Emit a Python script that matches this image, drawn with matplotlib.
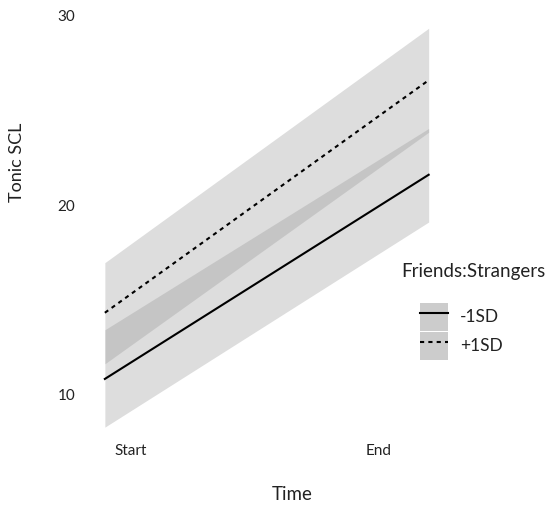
import matplotlib.pyplot as plt
from matplotlib.patches import Patch
from matplotlib.lines import Line2D
from matplotlib.legend_handler import HandlerTuple

plt.rcParams['font.family'] = ['Lato', 'DejaVu Sans']

# fitted Tonic SCL at the two ends of the time window, per moderator level
time = [-0.105, 1.2]
tick_pos = [0, 1]
tick_labels = ['Start', 'End']

low_fit = [10.8, 21.6]      # Friends:Strangers -1SD
low_lower = [8.25, 19.1]
low_upper = [13.4, 24.05]

high_fit = [14.3, 26.6]     # Friends:Strangers +1SD
high_lower = [11.6, 23.85]
high_upper = [16.95, 29.35]

W, H = 549, 508
fig = plt.figure(figsize=(W / 100, H / 100), dpi=100)
ax = fig.add_axes([85 / W, (H - 440) / H, (450 - 85) / W, (440 - 5) / H])

band = dict(color='#8f8f8f', alpha=0.3, linewidth=0)
ax.fill_between(time, low_lower, low_upper, **band)
ax.fill_between(time, high_lower, high_upper, **band)
ax.plot(time, low_fit, color='black', linewidth=1.5)
ax.plot(time, high_fit, color='black', linewidth=1.5, linestyle=(0, (2, 2)))

ax.set_xlim(-0.185, 1.286)
ax.set_ylim(7.57, 30.58)
ax.set_xticks(tick_pos, tick_labels)
ax.set_yticks([10, 20, 30])
ax.tick_params(length=0, labelsize=11, labelcolor='#222222')
ax.tick_params(axis='y', pad=7)
ax.tick_params(axis='x', pad=3)
for s in ax.spines.values():
    s.set_visible(False)

fig.text(17 / W, 1 - 162 / H, 'Tonic SCL', rotation=90, ha='center', va='center',
         fontsize=13, color='#222222')
fig.text(292 / W, 1 - 495 / H, 'Time', ha='center', va='center',
         fontsize=13.5, color='#222222')

# legend: title set as its own text, keys are grey squares with the line on top
fig.text(401 / W, 1 - 272 / H, 'Friends:Strangers', ha='left', va='center',
         fontsize=13.5, color='#222222')
key = '#cccccc'
handles = [
    (Patch(facecolor=key, edgecolor='none'), Line2D([], [], color='black', linewidth=1.5)),
    (Patch(facecolor=key, edgecolor='none'),
     Line2D([], [], color='black', linewidth=1.5, linestyle=(0, (2, 2)))),
]
fig.legend(handles, ['-1SD', '+1SD'], handler_map={tuple: HandlerTuple(ndivide=1, pad=0)},
           loc='upper left', bbox_to_anchor=(420 / W, 1 - 303 / H),
           fontsize=12.5, frameon=False, handlelength=1.6, handleheight=2.1,
           labelspacing=0.05, handletextpad=0.7, borderaxespad=0, borderpad=0,
           labelcolor='#222222')

fig.savefig('out.png', dpi=100)
